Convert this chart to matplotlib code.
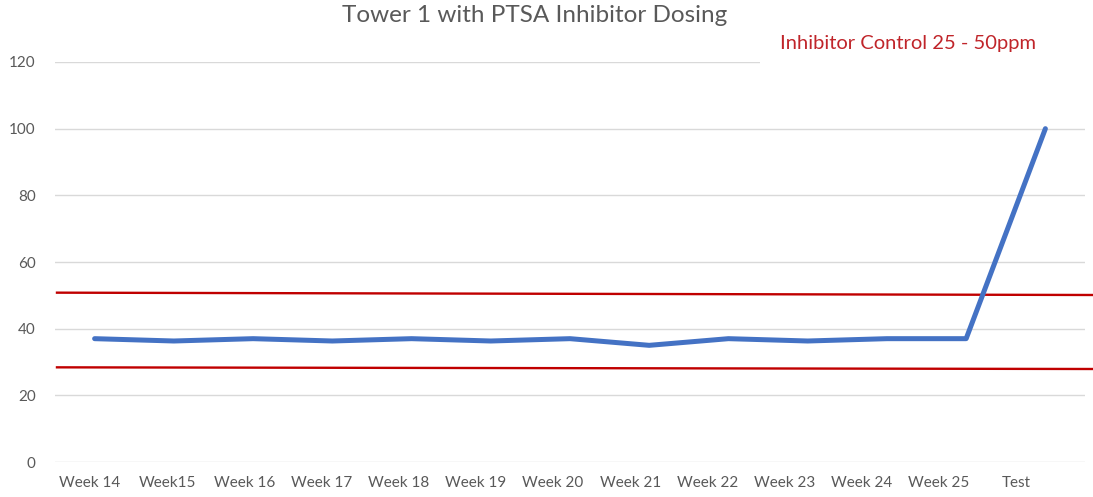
import matplotlib
matplotlib.use("Agg")
import matplotlib.pyplot as plt
from matplotlib.patches import Rectangle

categories = ["Week 14", "Week15", "Week 16", "Week 17", "Week 18", "Week 19",
              "Week 20", "Week 21", "Week 22", "Week 23", "Week 24", "Week 25", "Test"]
inhibitor = [37, 36.3, 37, 36.3, 37, 36.3, 37, 35, 37, 36.3, 37, 37, 100]
upper_limit = [50.8, 50.1]   # hand-drawn red line, left end / right end
lower_limit = [28.4, 27.9]
y_ticks = [0, 20, 40, 60, 80, 100, 120]

plt.rcParams['font.family'] = ['Lato', 'DejaVu Sans']

W, H = 1093, 497
fig = plt.figure(figsize=(W / 100, H / 100), dpi=100)
ax = fig.add_axes([55 / W, 1 - 462 / H, (1085 - 55) / W, (462 - 62) / H])

x = list(range(len(categories)))
ax.set_xlim(-0.5, len(categories) - 0.5)
ax.set_ylim(0, 120)
ax.set_yticks(y_ticks)
# the labels in the image sit on a slightly compressed spacing
label_pos = [i * 0.974 - 0.058 for i in x]
ax.set_xticks(label_pos)
ax.set_xticklabels(categories)
ax.grid(axis='y', color='#D9D9D9', linewidth=1)
ax.grid(axis='x', visible=False)
ax.set_axisbelow(True)
for s in ax.spines.values():
    s.set_visible(False)
ax.tick_params(axis='both', length=0, colors='#595959', labelsize=11)
ax.tick_params(axis='y', pad=14)
ax.tick_params(axis='x', pad=10)

ax.plot(x, inhibitor, color='#4472C4', linewidth=3.6, solid_capstyle='round',
        solid_joinstyle='round', zorder=3)

# red limit lines extend past the plot to the right edge of the image
x_left = -0.475
x_right = 12.62
ax.plot([x_left, x_right], upper_limit, color='#C00000', linewidth=1.7,
        clip_on=False, zorder=2)
ax.plot([x_left, x_right], lower_limit, color='#C00000', linewidth=1.7,
        clip_on=False, zorder=2)

fig.text(535 / W, 1 - 16 / H, "Tower 1 with PTSA Inhibitor Dosing",
         ha='center', va='center', fontsize=17.5, color='#595959')

# white text box that hides the top gridline on the right
fig.patches.append(Rectangle((760 / W, 1 - 68 / H), (1093 - 760) / W, 40 / H,
                             transform=fig.transFigure, facecolor='white',
                             edgecolor='none', zorder=5))
fig.text(908 / W, 1 - 43 / H, "Inhibitor Control 25 - 50ppm",
         ha='center', va='center', fontsize=14.5, color='#C0252A', zorder=6)

fig.savefig("out.png", dpi=100)
